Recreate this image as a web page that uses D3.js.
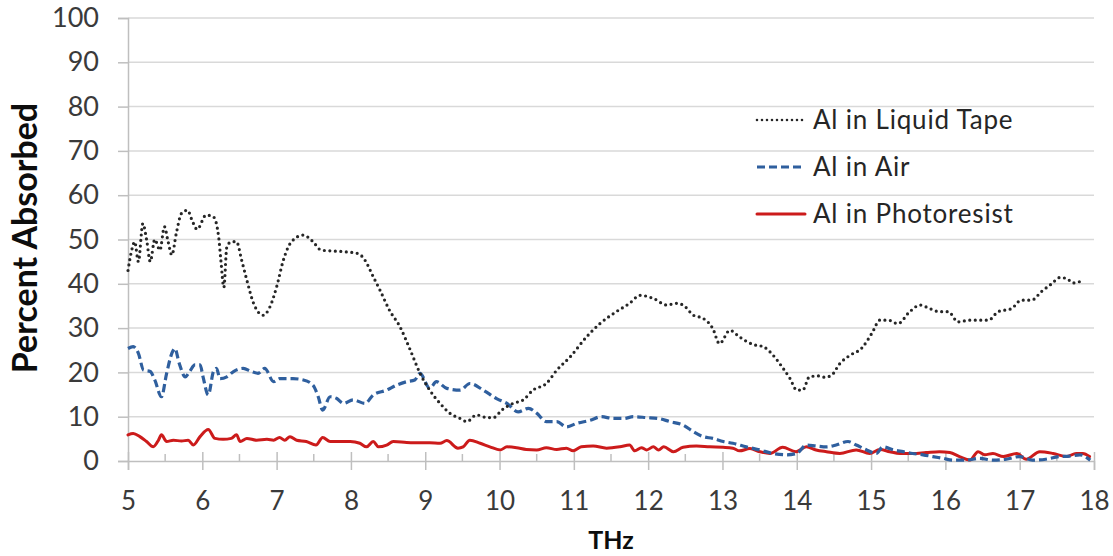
<!DOCTYPE html>
<html>
<head>
<meta charset="utf-8">
<script src="https://cdn.jsdelivr.net/npm/d3@7"></script>
<style>
  body { margin: 0; background: #fff; }
  svg { display: block; font-family: Lato, "Open Sans", sans-serif; }
</style>
</head>
<body>
<svg id="chart" width="1113" height="556"></svg>
<script>
// [THz, percent absorbed]
const liquidTape = [
  [5.0, 43], [5.05, 47.6], [5.09, 49.5], [5.14, 45], [5.2, 53.6], [5.25, 50], [5.3, 45],
  [5.36, 50], [5.43, 47.6], [5.49, 52.9], [5.54, 49.5], [5.59, 46.5], [5.65, 51.4],
  [5.72, 55.9], [5.8, 56.6], [5.87, 54], [5.93, 52.3], [6.05, 55.5], [6.15, 55.1],
  [6.22, 50.6], [6.25, 45.3], [6.29, 39.2], [6.33, 48.3], [6.39, 49.5], [6.46, 49.5],
  [6.53, 45.3], [6.6, 40.8], [6.69, 35.6], [6.82, 32.9], [6.91, 34.8], [7.0, 39.3],
  [7.09, 45.3], [7.2, 49.5], [7.36, 51], [7.49, 49.5], [7.6, 47.6], [7.76, 47.4],
  [7.94, 47.2], [8.1, 46.8], [8.19, 45.3], [8.3, 41.6], [8.39, 38.6], [8.52, 34],
  [8.66, 30.3], [8.79, 25.4], [8.93, 19.8], [9.06, 16], [9.2, 13], [9.33, 10.8],
  [9.47, 9.6], [9.56, 8.9], [9.69, 10.4], [9.83, 9.8], [9.92, 9.8], [10.03, 11.5],
  [10.18, 13], [10.32, 13.8], [10.45, 16], [10.63, 17.5], [10.77, 20.5], [10.95, 23.5],
  [11.17, 28], [11.35, 31], [11.57, 33.7], [11.75, 35.6], [11.89, 37.4], [12.07, 36.7],
  [12.25, 35.2], [12.38, 35.6], [12.47, 35.2], [12.61, 32.9], [12.74, 32.2], [12.87, 29.9],
  [12.96, 26.5], [13.1, 29.5], [13.23, 28], [13.41, 26.3], [13.55, 25.8], [13.68, 23.9],
  [13.8, 21.3], [13.91, 18.6], [14.0, 16], [14.08, 16], [14.17, 19], [14.29, 19.2],
  [14.38, 18.9], [14.47, 19.4], [14.58, 22], [14.72, 23.9], [14.87, 25.4], [15.01, 28.8],
  [15.12, 31.8], [15.23, 31.8], [15.36, 31], [15.52, 33.7], [15.66, 35.2], [15.79, 34.4],
  [15.92, 33.7], [16.04, 33.7], [16.17, 31.4], [16.33, 31.8], [16.46, 31.8], [16.58, 31.8],
  [16.71, 33.7], [16.89, 34.4], [17.02, 36.3], [17.16, 36.3], [17.29, 38.2], [17.43, 40],
  [17.54, 41.4], [17.63, 41.2], [17.72, 40.2], [17.81, 40.5]
];

const inAir = [
  [5.0, 25.4], [5.07, 25.8], [5.14, 24.3], [5.21, 20.5], [5.3, 20.2], [5.36, 18.3],
  [5.45, 14.5], [5.52, 19.8], [5.59, 24.3], [5.63, 25.4], [5.69, 22], [5.77, 19],
  [5.83, 20.2], [5.9, 21.7], [5.97, 21.7], [6.01, 19], [6.08, 14.9], [6.15, 20.2],
  [6.19, 20.9], [6.24, 18.6], [6.33, 19], [6.42, 20.2], [6.55, 20.9], [6.66, 20.2],
  [6.75, 19.8], [6.84, 20.9], [6.96, 17.9], [7.04, 18.6], [7.22, 18.6], [7.36, 18.3],
  [7.49, 17.1], [7.56, 14.5], [7.62, 11.5], [7.72, 14.5], [7.81, 14.1], [7.9, 13],
  [8.03, 13.8], [8.19, 13], [8.3, 14.9], [8.48, 16], [8.61, 17.1], [8.75, 17.9],
  [8.86, 18.3], [8.93, 19.8], [9.06, 16.4], [9.15, 17.9], [9.29, 16.4], [9.47, 16],
  [9.6, 17.5], [9.78, 16], [9.96, 14.1], [10.1, 13], [10.25, 11.1], [10.39, 11.9],
  [10.5, 10.8], [10.63, 8.9], [10.77, 8.9], [10.9, 7.7], [11.04, 8.5], [11.22, 9.2],
  [11.37, 10], [11.53, 9.6], [11.67, 9.6], [11.8, 10], [11.98, 9.8], [12.14, 9.6],
  [12.29, 8.9], [12.47, 8.1], [12.61, 6.6], [12.74, 5.5], [12.87, 5.1], [13.01, 4.4],
  [13.14, 4], [13.32, 3.2], [13.5, 2.5], [13.68, 1.7], [13.86, 1.4], [14.0, 1.7],
  [14.13, 3.6], [14.26, 3.4], [14.4, 3.2], [14.53, 3.6], [14.69, 4.4], [14.8, 3.6],
  [14.94, 2.5], [15.07, 1.7], [15.16, 3.2], [15.3, 2.5], [15.43, 2.1], [15.56, 1.7],
  [15.7, 1.4], [15.83, 1], [15.97, 0.6], [16.1, 0.2], [16.28, 0.2], [16.46, 0.6],
  [16.64, 0.2], [16.82, 0.4], [17.0, 1], [17.17, 0.2], [17.35, 0.4], [17.53, 1],
  [17.67, 1.1], [17.81, 1.4], [17.95, 0.2]
];

const inPhotoresist = [
  [5.0, 5.9], [5.07, 6.2], [5.16, 5.5], [5.25, 4.4], [5.34, 3.2], [5.41, 4.7], [5.45, 5.9],
  [5.52, 4.4], [5.61, 4.7], [5.72, 4.5], [5.81, 4.7], [5.88, 3.6], [5.97, 5.5], [6.08, 7.1],
  [6.17, 5.1], [6.28, 4.9], [6.39, 5.1], [6.46, 5.9], [6.51, 4.4], [6.6, 5.1], [6.73, 4.7],
  [6.87, 4.9], [6.96, 4.7], [7.04, 5.3], [7.11, 4.7], [7.18, 5.5], [7.27, 4.7], [7.4, 4.4],
  [7.53, 3.6], [7.62, 5.3], [7.72, 4.4], [7.85, 4.4], [7.99, 4.4], [8.12, 4], [8.21, 3.2],
  [8.3, 4.4], [8.37, 3.2], [8.48, 3.6], [8.57, 4.4], [8.75, 4.2], [8.93, 4.1], [9.06, 4.1],
  [9.2, 4], [9.29, 4.6], [9.44, 2.9], [9.51, 3.2], [9.6, 4.7], [9.74, 4], [9.87, 3.2],
  [10.01, 2.5], [10.1, 3.2], [10.23, 3], [10.36, 2.6], [10.5, 2.5], [10.63, 3], [10.77, 2.6],
  [10.9, 2.9], [10.99, 2.3], [11.1, 3.2], [11.26, 3.4], [11.44, 2.9], [11.62, 3.2],
  [11.75, 3.6], [11.82, 2.3], [11.91, 3], [11.98, 2.5], [12.07, 3.2], [12.14, 2.5],
  [12.21, 3.2], [12.34, 2.1], [12.47, 3.1], [12.65, 3.4], [12.83, 3.2], [13.01, 3.1],
  [13.14, 2.9], [13.23, 2.3], [13.37, 2.8], [13.5, 2.1], [13.64, 1.7], [13.81, 3.1],
  [13.99, 2.1], [14.13, 3.2], [14.26, 2.5], [14.4, 2.1], [14.58, 1.7], [14.8, 2.5],
  [14.98, 1.7], [15.12, 2.6], [15.25, 2.1], [15.39, 1.7], [15.56, 1.7], [15.74, 1.9],
  [15.92, 2.1], [16.06, 1.9], [16.19, 1], [16.33, 0.2], [16.44, 2.1], [16.53, 1.4],
  [16.64, 1.7], [16.78, 1], [16.96, 1.7], [17.09, 0.4], [17.27, 2.1], [17.45, 1.7],
  [17.63, 1], [17.76, 1.7], [17.85, 1.7], [17.94, 1]
];

const seriesNames = ['Al in Liquid Tape', 'Al in Air', 'Al in Photoresist'];
const xTicks = d3.range(5, 19, 1);
const xMinorTicks = d3.range(5.5, 18, 1);
const yTicks = d3.range(0, 101, 10);

const svg = d3.select('#chart');
const margin = { top: 18, right: 19, bottom: 95, left: 128 };
const width = 1113 - margin.left - margin.right;
const height = 556 - margin.top - margin.bottom;

const x = d3.scaleLinear().domain([5, 18]).range([0, width]);
const y = d3.scaleLinear().domain([0, 100]).range([height, 0]);

const g = svg.append('g').attr('transform', `translate(${margin.left},${margin.top})`);

// gridlines
g.append('g')
  .selectAll('line')
  .data(yTicks.filter(d => d > 0))
  .join('line')
  .attr('x1', 0)
  .attr('x2', width)
  .attr('y1', d => y(d))
  .attr('y2', d => y(d))
  .attr('stroke', '#d9d9d9')
  .attr('stroke-width', 1.5);

// y axis
const yAxis = g.append('g')
  .call(d3.axisLeft(y).tickValues(yTicks).tickSize(10).tickPadding(19));
yAxis.select('.domain').attr('stroke', '#bfbfbf').attr('stroke-width', 1.5);
yAxis.selectAll('.tick line').attr('stroke', '#bfbfbf').attr('stroke-width', 1.5);
yAxis.selectAll('.tick text')
  .attr('fill', '#3a3a3a')
  .style('font-size', '27px')
  .style('font-family', 'Lato, sans-serif');

// x axis: major ticks cross the axis, minor ticks inside
const xAxis = g.append('g')
  .attr('transform', `translate(0,${height})`)
  .call(d3.axisBottom(x).tickValues(xTicks).tickSize(9).tickPadding(22).tickFormat(d3.format('d')));
xAxis.select('.domain').attr('stroke', '#bfbfbf').attr('stroke-width', 1.5);
xAxis.selectAll('.tick line').attr('stroke', '#bfbfbf').attr('stroke-width', 1.5).attr('y1', -9);
xAxis.selectAll('.tick text')
  .attr('fill', '#3a3a3a')
  .style('font-size', '26px')
  .style('font-family', 'Lato, sans-serif');
xAxis.append('g')
  .selectAll('line')
  .data(xMinorTicks)
  .join('line')
  .attr('x1', d => x(d))
  .attr('x2', d => x(d))
  .attr('y1', -7)
  .attr('y2', 0)
  .attr('stroke', '#bfbfbf')
  .attr('stroke-width', 1.5);

// axis titles
svg.append('text')
  .attr('transform', 'translate(37,238) rotate(-90)')
  .attr('text-anchor', 'middle')
  .attr('fill', '#0d0d0d')
  .style('font-size', '34px')
  .style('font-weight', 'bold')
  .text('Percent Absorbed');

svg.append('text')
  .attr('x', margin.left + width / 2)
  .attr('y', 549)
  .attr('text-anchor', 'middle')
  .attr('fill', '#0d0d0d')
  .style('font-size', '25px')
  .style('font-weight', 'bold')
  .text('THz');

// series
const styles = [
  { data: liquidTape, color: '#262626', width: 3.2, dash: '0 5.5', cap: 'round' },
  { data: inAir, color: '#2f5f9e', width: 3.2, dash: '8 4', cap: 'butt' },
  { data: inPhotoresist, color: '#cc1b1b', width: 3, dash: null, cap: 'round' }
];

const line = d3.line()
  .x(d => x(d[0]))
  .y(d => y(d[1]))
  .curve(d3.curveMonotoneX);

// draw photoresist first so the others lie on top like the original
[2, 1, 0].forEach(i => {
  const s = styles[i];
  g.append('path')
    .datum(s.data)
    .attr('fill', 'none')
    .attr('stroke', s.color)
    .attr('stroke-width', s.width)
    .attr('stroke-dasharray', s.dash)
    .attr('stroke-linecap', s.cap)
    .attr('stroke-linejoin', 'round')
    .attr('d', line);
});

// legend
const legend = svg.append('g');
const legendRows = legend.selectAll('g')
  .data(seriesNames)
  .join('g')
  .attr('transform', (d, i) => `translate(757,${120 + i * 47})`);

legendRows.append('line')
  .attr('x1', 0)
  .attr('x2', 48)
  .attr('stroke', (d, i) => styles[i].color)
  .attr('stroke-width', (d, i) => (i === 0 ? 2.6 : 3))
  .attr('stroke-dasharray', (d, i) => (i === 0 ? '0 5' : styles[i].dash))
  .attr('stroke-linecap', (d, i) => styles[i].cap);

legendRows.append('text')
  .attr('x', 56)
  .attr('dy', '0.35em')
  .attr('fill', '#262626')
  .style('font-size', '26px')
  .style('letter-spacing', '0.8px')
  .text(d => d);
</script>
</body>
</html>
